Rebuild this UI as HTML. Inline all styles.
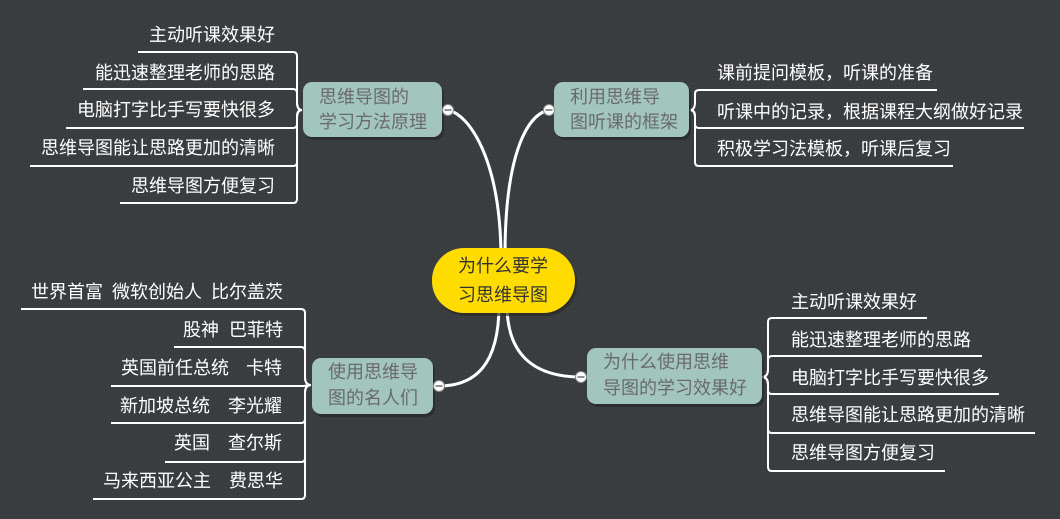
<!DOCTYPE html>
<html><head><meta charset="utf-8"><style>
html,body{margin:0;padding:0;background:#3a3d40;}
svg{display:block;}
text{font-family:"Liberation Sans","Noto Sans CJK SC",sans-serif;font-size:18px;}
.w{fill:#ffffff;}
.n{fill:#6a6a6a;}
.c{fill:#333333;}
</style></head><body>
<svg width="1060" height="519" viewBox="0 0 1060 519" xmlns="http://www.w3.org/2000/svg">
<defs>
<pattern id="dots" width="4" height="4" patternUnits="userSpaceOnUse">
<rect width="4" height="4" fill="#3b3e41"/>
<rect x="1" y="1" width="1" height="1" fill="#30333a"/>
</pattern>
</defs>
<rect width="1060" height="519" fill="url(#dots)"/>

<!-- main connectors -->
<g fill="none" stroke="#ffffff" stroke-width="3" stroke-linecap="round">
<path d="M448,110 C470,115 500,160 501,255"/>
<path d="M549,110 C525,115 505,160 505,255"/>
<path d="M499,305 C499,365 475,386 439,386"/>
<path d="M507,305 C507,360 540,377 581,377"/>
</g>

<!-- branch lines -->
<g fill="none" stroke="#ffffff" stroke-width="2" stroke-linejoin="round">
<!-- top-left -->
<path d="M302,110 Q297,110 297,102 L297,56 Q297,52 293,52 L138,52"/>
<path d="M302,110 Q297,110 297,102 L297,93 Q297,89 293,89 L83,89"/>
<path d="M302,110 Q297,110 297,116 L297,124 Q297,128 293,128 L66,128"/>
<path d="M302,110 Q297,110 297,118 L297,162 Q297,166 293,166 L30,166"/>
<path d="M302,110 Q297,110 297,118 L297,199 Q297,203 293,203 L120,203"/>
<!-- top-right -->
<path d="M690,110 Q695,110 695,102 L695,94 Q695,90 699,90 L937,90"/>
<path d="M690,110 Q695,110 695,116 L695,124 Q695,128 699,128 L1024,128"/>
<path d="M690,110 Q695,110 695,118 L695,162 Q695,166 699,166 L953,166"/>
<!-- bottom-left -->
<path d="M311,385 Q305,385 305,377 L305,313 Q305,309 301,309 L21,309"/>
<path d="M311,385 Q305,385 305,377 L305,351 Q305,347 301,347 L174,347"/>
<path d="M311,385 L303,386 L111,386"/>
<path d="M311,385 Q305,385 305,393 L305,419 Q305,423 301,423 L111,423"/>
<path d="M311,385 Q305,385 305,393 L305,458 Q305,462 301,462 L165,462"/>
<path d="M311,385 Q305,385 305,393 L305,495 Q305,499 301,499 L93,499"/>
<!-- bottom-right -->
<path d="M762,377 Q768,377 768,369 L768,322 Q768,318 772,318 L927,318"/>
<path d="M762,377 Q768,377 768,369 L768,360 Q768,356 772,356 L982,356"/>
<path d="M762,377 Q768,377 768,385 L768,390 Q768,394 772,394 L999,394"/>
<path d="M762,377 Q768,377 768,385 L768,429 Q768,433 772,433 L1035,433"/>
<path d="M762,377 Q768,377 768,385 L768,467 Q768,471 772,471 L945,471"/>
</g>

<!-- node shadows -->
<g fill="#26282a" opacity="0.7">
<rect x="305" y="85" width="139" height="55" rx="9"/>
<rect x="556" y="85" width="135" height="55" rx="9"/>
<rect x="314" y="361" width="121" height="56" rx="9"/>
<rect x="589" y="351" width="175" height="56" rx="9"/>
<rect x="434" y="251" width="143" height="65" rx="32"/>
</g>

<!-- nodes -->
<g fill="#a2c5be">
<rect x="303" y="82" width="139" height="55" rx="9"/>
<rect x="554" y="82" width="135" height="55" rx="9"/>
<rect x="312" y="358" width="121" height="56" rx="9"/>
<rect x="587" y="348" width="175" height="56" rx="9"/>
</g>
<rect x="432" y="248" width="143" height="65" rx="32" fill="#ffdc00"/>

<!-- collapse circles -->
<g fill="#ffffff" stroke="#8a8a8a" stroke-width="1">
<circle cx="448" cy="110" r="5.5"/>
<circle cx="549" cy="110" r="5.5"/>
<circle cx="439" cy="386" r="5.5"/>
<circle cx="581" cy="377" r="5.5"/>
</g>
<g stroke="#777777" stroke-width="1.6">
<line x1="444.5" y1="110" x2="451.5" y2="110"/>
<line x1="545.5" y1="110" x2="552.5" y2="110"/>
<line x1="435.5" y1="386" x2="442.5" y2="386"/>
<line x1="577.5" y1="377" x2="584.5" y2="377"/>
</g>

<!-- node text -->
<g dominant-baseline="central">
<text class="c" x="458" y="266">为什么要学</text>
<text class="c" x="458" y="295">习思维导图</text>

<text class="n" x="319" y="97">思维导图的</text>
<text class="n" x="319" y="122">学习方法原理</text>

<text class="n" x="570" y="97">利用思维导</text>
<text class="n" x="570" y="122">图听课的框架</text>

<text class="n" x="328" y="372">使用思维导</text>
<text class="n" x="328" y="398">图的名人们</text>

<text class="n" x="603" y="362">为什么使用思维</text>
<text class="n" x="603" y="388">导图的学习效果好</text>
</g>

<!-- branch text -->
<g dominant-baseline="central" class="w">
<g text-anchor="end">
<text class="w" x="275" y="35">主动听课效果好</text>
<text class="w" x="275" y="73">能迅速整理老师的思路</text>
<text class="w" x="275" y="110">电脑打字比手写要快很多</text>
<text class="w" x="275" y="148">思维导图能让思路更加的清晰</text>
<text class="w" x="275" y="186">思维导图方便复习</text>
</g>

<text class="w" x="717" y="73">课前提问模板，听课的准备</text>
<text class="w" x="717" y="112">听课中的记录，根据课程大纲做好记录</text>
<text class="w" x="717" y="149">积极学习法模板，听课后复习</text>

<text class="w" x="31" y="292">世界首富</text>
<text class="w" x="112" y="292">微软创始人</text>
<text class="w" x="211" y="292">比尔盖茨</text>
<text class="w" x="183" y="330">股神</text>
<text class="w" x="229" y="330">巴菲特</text>
<text class="w" x="121" y="368">英国前任总统</text>
<text class="w" x="246" y="368">卡特</text>
<text class="w" x="120" y="406">新加坡总统</text>
<text class="w" x="228" y="406">李光耀</text>
<text class="w" x="174" y="443">英国</text>
<text class="w" x="228" y="443">查尔斯</text>
<text class="w" x="103" y="481">马来西亚公主</text>
<text class="w" x="229" y="481">费思华</text>

<text class="w" x="791" y="302">主动听课效果好</text>
<text class="w" x="791" y="340">能迅速整理老师的思路</text>
<text class="w" x="791" y="378">电脑打字比手写要快很多</text>
<text class="w" x="791" y="415">思维导图能让思路更加的清晰</text>
<text class="w" x="791" y="453">思维导图方便复习</text>
</g>
</svg>
</body></html>
